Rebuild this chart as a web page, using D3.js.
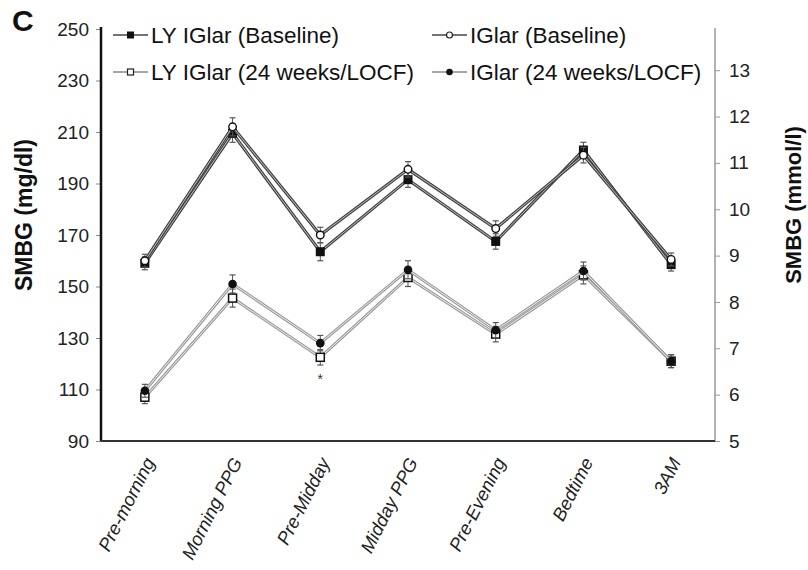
<!DOCTYPE html>
<html><head><meta charset="utf-8">
<script src="https://cdn.jsdelivr.net/npm/d3@7/dist/d3.min.js"></script>
<style>body{margin:0;background:#fff;} text{font-family:"Liberation Sans",Arial,sans-serif;}</style>
</head><body>
<svg id="chart" width="808" height="570"></svg>
<script>
const categories = ["Pre-morning","Morning PPG","Pre-Midday","Midday PPG","Pre-Evening","Bedtime","3AM"];
const lyBaseline = [159, 209.5, 163.5, 191.5, 167.5, 203, 158.5];
const glarBaseline = [160, 212, 170, 195.5, 172.5, 201, 160.5];
const ly24 = [107, 145.5, 122.5, 153.5, 131.5, 154.5, 121];
const glar24 = [109.5, 151, 128, 156.5, 133, 156, 121];
const errLyBaseline = [2.5, 3.5, 3.5, 3, 3, 3, 2.5];
const errGlarBaseline = [2.5, 3.5, 3, 3, 3, 3, 2.5];
const errLy24 = [2.5, 3.5, 3, 3.5, 3, 3.5, 2.5];
const errGlar24 = [2.5, 3.5, 3, 3.5, 3, 3.5, 2.5];
const leftTicks = [90,110,130,150,170,190,210,230,250];
const rightTicks = [5,6,7,8,9,10,11,12,13];
const legendLabels = ["LY IGlar (Baseline)","LY IGlar (24 weeks/LOCF)","IGlar (Baseline)","IGlar (24 weeks/LOCF)"];

const svg = d3.select("#chart");
const L = 101, R = 715, T = 29, B = 441;
const x = d3.scalePoint().domain(categories).range([L, R]).padding(0.5);
const y = d3.scaleLinear().domain([90, 250]).range([B, T]);
const y2 = d3.scaleLinear().domain([5, 250/18]).range([B, T]);

// Panel letter
svg.append("text").attr("x", 12).attr("y", 31).attr("font-size", 30).attr("font-weight", "bold").attr("fill", "#111").text("C");

// Left axis
const gl = svg.append("g").attr("transform", `translate(${L},0)`)
  .call(d3.axisLeft(y).tickValues(leftTicks).tickSize(5).tickPadding(7));
gl.select(".domain").remove();
gl.selectAll(".tick line").attr("stroke", "#888");
gl.selectAll(".tick text").attr("font-size", 19).attr("fill", "#222").attr("font-family", "Liberation Sans, Arial, sans-serif");
svg.append("line").attr("x1", L).attr("x2", L).attr("y1", T - 2).attr("y2", B).attr("stroke", "#111").attr("stroke-width", 2.5);

// Right axis
const gr = svg.append("g").attr("transform", `translate(${R},0)`)
  .call(d3.axisRight(y2).tickValues(rightTicks).tickSize(5).tickPadding(9));
gr.select(".domain").remove();
gr.selectAll(".tick line").attr("stroke", "#999");
gr.selectAll(".tick text").attr("font-size", 19).attr("fill", "#222").attr("font-family", "Liberation Sans, Arial, sans-serif");
svg.append("line").attr("x1", R).attr("x2", R).attr("y1", T - 1).attr("y2", B).attr("stroke", "#999").attr("stroke-width", 1.5);

// Bottom axis
const gb = svg.append("g").attr("transform", `translate(0,${B})`)
  .call(d3.axisBottom(x).tickSize(0).tickPadding(0));
gb.select(".domain").remove();
gb.selectAll(".tick text")
  .attr("font-size", 18.5).attr("fill", "#222").attr("font-style", "italic")
  .attr("text-anchor", "end").attr("x", 0).attr("y", 0)
  .attr("transform", "translate(4,18) rotate(-63)")
  .attr("dy", "0.35em");
svg.append("line").attr("x1", L).attr("x2", R).attr("y1", B).attr("y2", B).attr("stroke", "#333").attr("stroke-width", 2);

// Axis titles
svg.append("text").attr("transform", `translate(32,215) rotate(-90)`).attr("text-anchor", "middle")
  .attr("font-size", 23).attr("font-weight", "bold").attr("fill", "#111").text("SMBG (mg/dl)");
svg.append("text").attr("transform", `translate(801,205) rotate(-90)`).attr("text-anchor", "middle")
  .attr("font-size", 22).attr("font-weight", "bold").attr("fill", "#111").text("SMBG (mmol/l)");

const line = d3.line().x((d, i) => x(categories[i])).y(d => y(d));

function drawSeries(vals, errs, outer, inner, ow) {
  const g = svg.append("g");
  g.append("path").datum(vals).attr("d", line).attr("fill", "none").attr("stroke", outer).attr("stroke-width", ow);
  g.append("path").datum(vals).attr("d", line).attr("fill", "none").attr("stroke", inner).attr("stroke-width", 1);
  vals.forEach((v, i) => {
    const cx = x(categories[i]);
    g.append("line").attr("x1", cx).attr("x2", cx).attr("y1", y(v + errs[i])).attr("y2", y(v - errs[i])).attr("stroke", "#555").attr("stroke-width", 1);
    [v + errs[i], v - errs[i]].forEach(e => g.append("line").attr("x1", cx - 3).attr("x2", cx + 3).attr("y1", y(e)).attr("y2", y(e)).attr("stroke", "#555").attr("stroke-width", 1.2));
  });
  return g;
}
function marker(g, type, cx, cy) {
  if (type === "fsq") g.append("rect").attr("x", cx - 4.5).attr("y", cy - 4.5).attr("width", 9).attr("height", 9).attr("fill", "#111");
  if (type === "osq") g.append("rect").attr("x", cx - 4).attr("y", cy - 4).attr("width", 8).attr("height", 8).attr("fill", "#fff").attr("stroke", "#111").attr("stroke-width", 1.5);
  if (type === "fci") g.append("circle").attr("cx", cx).attr("cy", cy).attr("r", 4.3).attr("fill", "#111");
  if (type === "oci") g.append("circle").attr("cx", cx).attr("cy", cy).attr("r", 3.8).attr("fill", "#fff").attr("stroke", "#111").attr("stroke-width", 1.4);
}

const gA = drawSeries(ly24, errLy24, "#999", "#eee", 3);
const gB = drawSeries(glar24, errGlar24, "#999", "#eee", 3);
const gC = drawSeries(lyBaseline, errLyBaseline, "#444", "#bbb", 3.2);
const gD = drawSeries(glarBaseline, errGlarBaseline, "#444", "#bbb", 3.2);
glar24.forEach((v, i) => marker(gB, "fci", x(categories[i]), y(v)));
ly24.forEach((v, i) => marker(gA, "osq", x(categories[i]), y(v)));
lyBaseline.forEach((v, i) => marker(gC, "fsq", x(categories[i]), y(v)));
glarBaseline.forEach((v, i) => marker(gD, "oci", x(categories[i]), y(v)));

// significance star
svg.append("text").attr("x", x("Pre-Midday")).attr("y", y(ly24[2]) + 27).attr("text-anchor", "middle").attr("font-size", 14).attr("fill", "#333").text("*");

// Legend
const legend = [
  {label: legendLabels[0], type: "fsq", x: 113, y: 35, col: "#444"},
  {label: legendLabels[1], type: "osq", x: 113, y: 72, col: "#888"},
  {label: legendLabels[2], type: "oci", x: 432, y: 35, col: "#444"},
  {label: legendLabels[3], type: "fci", x: 432, y: 72, col: "#888"}
];
legend.forEach(d => {
  const g = svg.append("g");
  g.append("line").attr("x1", d.x).attr("x2", d.x + 35).attr("y1", d.y).attr("y2", d.y).attr("stroke", d.col).attr("stroke-width", 1.5);
  if (d.type === "fsq") g.append("rect").attr("x", d.x + 14).attr("y", d.y - 3.5).attr("width", 7).attr("height", 7).attr("fill", "#111");
  if (d.type === "osq") g.append("rect").attr("x", d.x + 14.5).attr("y", d.y - 3).attr("width", 6).attr("height", 6).attr("fill", "#fff").attr("stroke", "#222").attr("stroke-width", 1.2);
  if (d.type === "oci") g.append("circle").attr("cx", d.x + 17.5).attr("cy", d.y).attr("r", 3).attr("fill", "#fff").attr("stroke", "#222").attr("stroke-width", 1.2);
  if (d.type === "fci") g.append("circle").attr("cx", d.x + 17.5).attr("cy", d.y).attr("r", 3.3).attr("fill", "#111");
  g.append("text").attr("x", d.x + 38).attr("y", d.y).attr("dy", "0.35em").attr("font-size", 22.5).attr("fill", "#111").text(d.label);
});
</script>
</body></html>
